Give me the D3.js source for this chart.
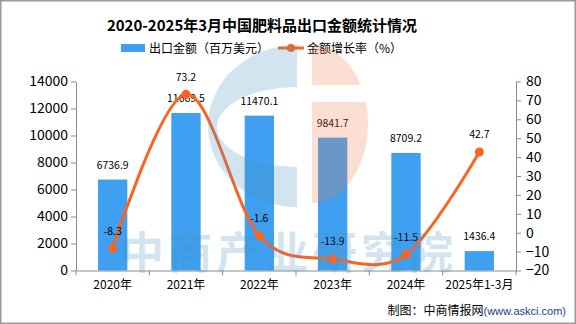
<!DOCTYPE html>
<html>
<head>
<meta charset="utf-8">
<script src="https://cdn.jsdelivr.net/npm/d3@7"></script>
<style>
  body { margin: 0; background: #fff; }
  text { font-family: "Noto Sans CJK SC", "Liberation Sans", sans-serif; }
</style>
</head>
<body>
<script>
'use strict';

// chart data
let years = ['2020年', '2021年', '2022年', '2023年', '2024年', '2025年1-3月'];
let exportValue = [6736.9, 11669.5, 11470.1, 9841.7, 8709.2, 1436.4];
let growthRate = [-8.3, 73.2, -1.6, -13.9, -11.5, 42.7];
let leftTicks = [0, 2000, 4000, 6000, 8000, 10000, 12000, 14000];
let rightTicks = [-20, -10, 0, 10, 20, 30, 40, 50, 60, 70, 80];

let width = 576, height = 324;
let margin = { top: 81.5, right: 60, bottom: 53.5, left: 76 };

let barColor = '#3f9ff0', lineColor = '#fa6420', axisColor = '#8c8c8c';

let svg = d3.select('body').append('svg')
  .attr('width', width)
  .attr('height', height);

svg.append('rect').attr('x', 0.75).attr('y', 0.75)
  .attr('width', width - 1.5).attr('height', height - 1.5)
  .attr('fill', '#fff').attr('stroke', '#999').attr('stroke-width', 1.5);

let x = d3.scaleBand().domain(years)
  .range([margin.left, width - margin.right]).padding(0);

let yL = d3.scaleLinear().domain([0, 14000])
  .range([height - margin.bottom, margin.top]);

let yR = d3.scaleLinear().domain([-20, 80])
  .range([height - margin.bottom, margin.top]);

// title
svg.append('text')
  .attr('x', 262).attr('y', 31)
  .attr('text-anchor', 'middle')
  .attr('font-size', 15).attr('font-weight', 'bold')
  .text('2020-2025年3月中国肥料品出口金额统计情况');

// legend
let legend = svg.append('g');
legend.append('rect').attr('x', 121).attr('y', 44).attr('width', 24).attr('height', 8).attr('fill', barColor);
legend.append('text').attr('x', 149).attr('y', 52.5).attr('font-size', 12).text('出口金额（百万美元）');
legend.append('line').attr('x1', 278).attr('x2', 304).attr('y1', 48).attr('y2', 48)
  .attr('stroke', lineColor).attr('stroke-width', 3);
legend.append('circle').attr('cx', 291).attr('cy', 48).attr('r', 4).attr('fill', lineColor);
legend.append('text').attr('x', 307).attr('y', 52.5).attr('font-size', 12).text('金额增长率（%）');

// axes
let leftAxis = svg.append('g')
  .attr('transform', `translate(${margin.left},0)`)
  .call(d3.axisLeft(yL).tickValues(leftTicks).tickFormat(d3.format('d'))
    .tickSize(5).tickSizeOuter(0).tickPadding(3));

let rightAxis = svg.append('g')
  .attr('transform', `translate(${width - margin.right},0)`)
  .call(d3.axisRight(yR).tickValues(rightTicks).tickFormat(d3.format('d'))
    .tickSize(5).tickSizeOuter(0).tickPadding(5));

[leftAxis, rightAxis].forEach(a => {
  a.selectAll('path, line').attr('stroke', axisColor);
  a.selectAll('text').attr('font-family', 'Liberation Serif').attr('font-size', 14).attr('fill', '#000');
});

let bottomAxis = svg.append('g')
  .attr('transform', `translate(0,${height - margin.bottom})`)
  .call(d3.axisBottom(x).tickSize(0).tickSizeOuter(0).tickPadding(10));
bottomAxis.select('.domain').attr('stroke', axisColor);
bottomAxis.selectAll('text').attr('font-size', 12).attr('fill', '#000');

// category boundary ticks
let edges = years.map(d => x(d)).concat([x.range()[1]]);
svg.append('g').selectAll('line').data(edges).enter().append('line')
  .attr('x1', d => d).attr('x2', d => d)
  .attr('y1', height - margin.bottom).attr('y2', height - margin.bottom + 5)
  .attr('stroke', axisColor);

// bars
let barW = x.bandwidth() * 0.4;
svg.append('g').selectAll('rect').data(exportValue).enter().append('rect')
  .attr('x', (d, i) => x(years[i]) + (x.bandwidth() - barW) / 2)
  .attr('y', d => yL(d))
  .attr('width', barW)
  .attr('height', d => yL(0) - yL(d))
  .attr('fill', barColor);

svg.append('g').selectAll('text').data(exportValue).enter().append('text')
  .attr('x', (d, i) => x(years[i]) + x.bandwidth() / 2)
  .attr('y', d => yL(d) - 11)
  .attr('text-anchor', 'middle')
  .attr('font-family', 'DejaVu Sans Mono').attr('font-size', 10.5)
  .text(d => d.toFixed(1));

// growth line
let lineGen = d3.line().curve(d3.curveCardinal)
  .x((d, i) => x(years[i]) + x.bandwidth() / 2)
  .y(d => yR(d));

svg.append('path').datum(growthRate)
  .attr('fill', 'none').attr('stroke', lineColor).attr('stroke-width', 3)
  .attr('d', lineGen);

svg.append('g').selectAll('circle').data(growthRate).enter().append('circle')
  .attr('cx', (d, i) => x(years[i]) + x.bandwidth() / 2)
  .attr('cy', d => yR(d))
  .attr('r', 4.5).attr('fill', lineColor);

svg.append('g').selectAll('text').data(growthRate).enter().append('text')
  .attr('x', (d, i) => x(years[i]) + x.bandwidth() / 2)
  .attr('y', d => yR(d) - 13.5)
  .attr('text-anchor', 'middle')
  .attr('font-family', 'DejaVu Sans Mono').attr('font-size', 10.5)
  .text(d => d.toFixed(1));

// source note
let src = svg.append('text').attr('x', 566).attr('y', 315).attr('text-anchor', 'end').attr('font-size', 12);
src.append('tspan').attr('fill', '#000').text('制图：中商情报网');
src.append('tspan').attr('fill', '#1a3d8f').attr('font-size', 11).attr('font-family', 'Liberation Sans').text('(www.askci.com)');

// watermark (drawn on top, semi transparent)
let wm = svg.append('g').attr('pointer-events', 'none');
let defs = svg.append('defs');
defs.append('clipPath').attr('id', 'clipC').append('rect')
  .attr('x', 190).attr('y', 30).attr('width', 107).attr('height', 190);
let cp = defs.append('clipPath').attr('id', 'clipP');
cp.append('rect').attr('x', 312).attr('y', 40).attr('width', 70).attr('height', 45);
cp.append('rect').attr('x', 312).attr('y', 102).attr('width', 70).attr('height', 110);

function ellipse(cx, cy, rx, ry) {
  return `M${cx - rx},${cy}a${rx},${ry} 0 1,0 ${2 * rx},0a${rx},${ry} 0 1,0 ${-2 * rx},0Z`;
}
wm.append('path')
  .attr('d', ellipse(297, 126, 89, 81) + ellipse(297, 127, 80, 40))
  .attr('fill-rule', 'evenodd')
  .attr('fill', 'rgb(75,147,191)').attr('fill-opacity', 0.25)
  .attr('clip-path', 'url(#clipC)');
wm.append('path')
  .attr('d', ellipse(312, 124, 56, 79))
  .attr('fill', 'rgb(240,128,80)').attr('fill-opacity', 0.25)
  .attr('clip-path', 'url(#clipP)');
wm.append('text')
  .attr('x', 120).attr('y', 269)
  .attr('font-size', 44).attr('font-weight', 'bold')
  .attr('textLength', 333).attr('lengthAdjust', 'spacing')
  .attr('fill', 'rgb(75,147,191)').attr('fill-opacity', 0.25)
  .text('中商产业研究院');
</script>
</body>
</html>
